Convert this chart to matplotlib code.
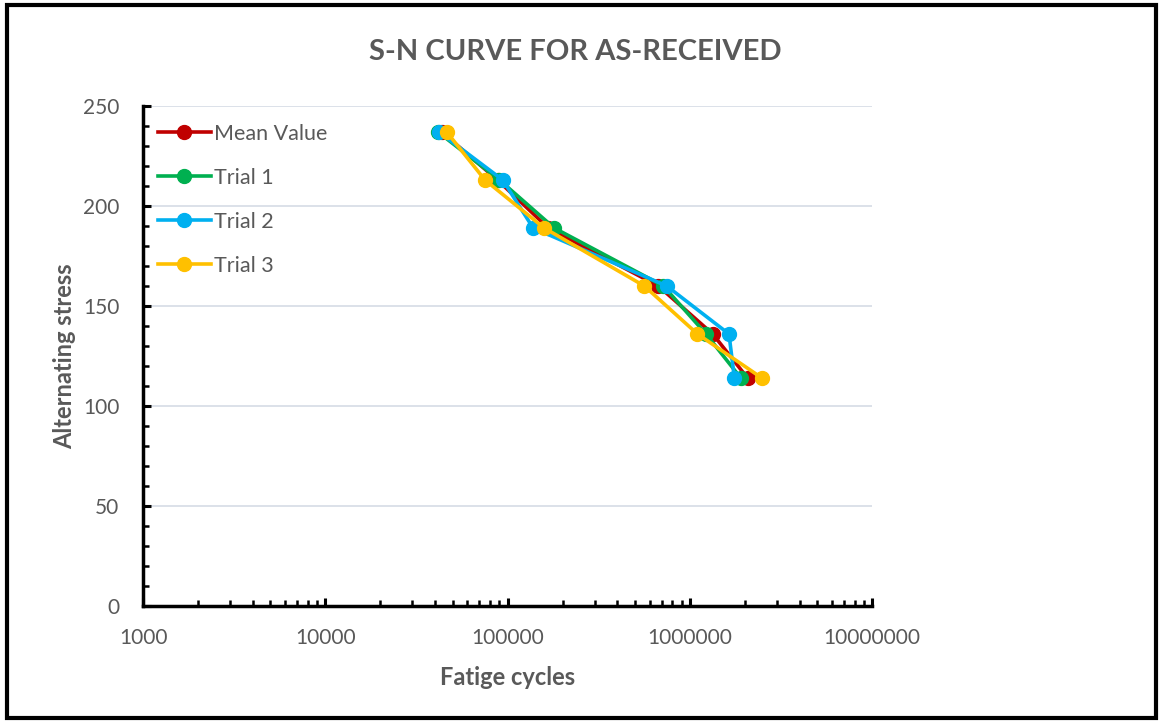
import matplotlib
matplotlib.use("Agg")
import matplotlib.pyplot as plt
from matplotlib.patches import Rectangle
from matplotlib.ticker import FixedLocator, LogLocator, NullFormatter, FuncFormatter

plt.rcParams['font.family'] = ['Lato', 'DejaVu Sans']

stress = [237, 213, 189, 160, 136, 114]
mean_value = [43500, 88000, 167000, 671000, 1333000, 2070000]
trial1 = [41500, 90200, 180000, 715000, 1225000, 1900000]
trial2 = [42000, 94000, 138000, 746000, 1637000, 1753000]
trial3 = [46300, 75100, 158600, 562000, 1100000, 2480000]

series = [("Mean Value", mean_value, "#C00000"),
          ("Trial 1", trial1, "#00B050"),
          ("Trial 2", trial2, "#00B0F0"),
          ("Trial 3", trial3, "#FFC000")]

x_ticks = [1000, 10000, 100000, 1000000, 10000000]
y_ticks = [0, 50, 100, 150, 200, 250]

fig = plt.figure(figsize=(11.63, 7.24), dpi=100)
fig.patch.set_facecolor("white")
fig.add_artist(Rectangle((0.006, 0.008), 0.988, 0.985, transform=fig.transFigure,
                         fill=False, edgecolor="black", linewidth=3.0))

ax = fig.add_axes([0.123, 0.163, 0.627, 0.6906])
for name, vals, col in series:
    ax.plot(vals, stress, color=col, linewidth=2.6, marker="o", markersize=10,
            label=name, zorder=3)

ax.set_xscale("log")
ax.set_xlim(1000, 10000000)
ax.set_ylim(0, 250)
ax.xaxis.set_major_locator(FixedLocator(x_ticks))
ax.xaxis.set_major_formatter(FuncFormatter(lambda v, p: f"{int(round(v))}"))
ax.xaxis.set_minor_locator(LogLocator(base=10, subs=range(2, 10)))
ax.xaxis.set_minor_formatter(NullFormatter())
ax.yaxis.set_major_locator(FixedLocator(y_ticks))
ax.yaxis.set_minor_locator(FixedLocator(list(range(0, 251, 10))))

for y in y_ticks[1:]:
    ax.axhline(y, color="#D6DCE5", linewidth=1.2, zorder=1)

for s in ["top", "right"]:
    ax.spines[s].set_visible(False)
for s in ["left", "bottom"]:
    ax.spines[s].set_linewidth(2.5)
    ax.spines[s].set_color("black")

ax.tick_params(axis="both", which="major", direction="in", length=6, width=2.2,
               colors="black", labelcolor="#595959", labelsize=15)
ax.tick_params(axis="both", which="minor", direction="in", length=4, width=1.8,
               colors="black")
ax.tick_params(axis="x", which="major", pad=16)
ax.tick_params(axis="y", which="major", pad=17)

ax.set_xlabel("Fatige cycles", fontsize=17, fontweight="bold", color="#595959", labelpad=13)
ax.set_ylabel("Alternating stress", fontsize=17, fontweight="bold", color="#595959", labelpad=5)
fig.text(0.495, 0.928, "S-N CURVE FOR AS-RECEIVED", ha="center", va="center",
         fontsize=21, fontweight="bold", color="#595959")

leg = ax.legend(loc="upper left", bbox_to_anchor=(0.0, 0.995), frameon=False,
                fontsize=15.5, labelcolor="#595959", handlelength=2.45, handletextpad=0.15,
                labelspacing=1.12, borderaxespad=0.3)

fig.savefig("out.png", dpi=100, facecolor="white")
